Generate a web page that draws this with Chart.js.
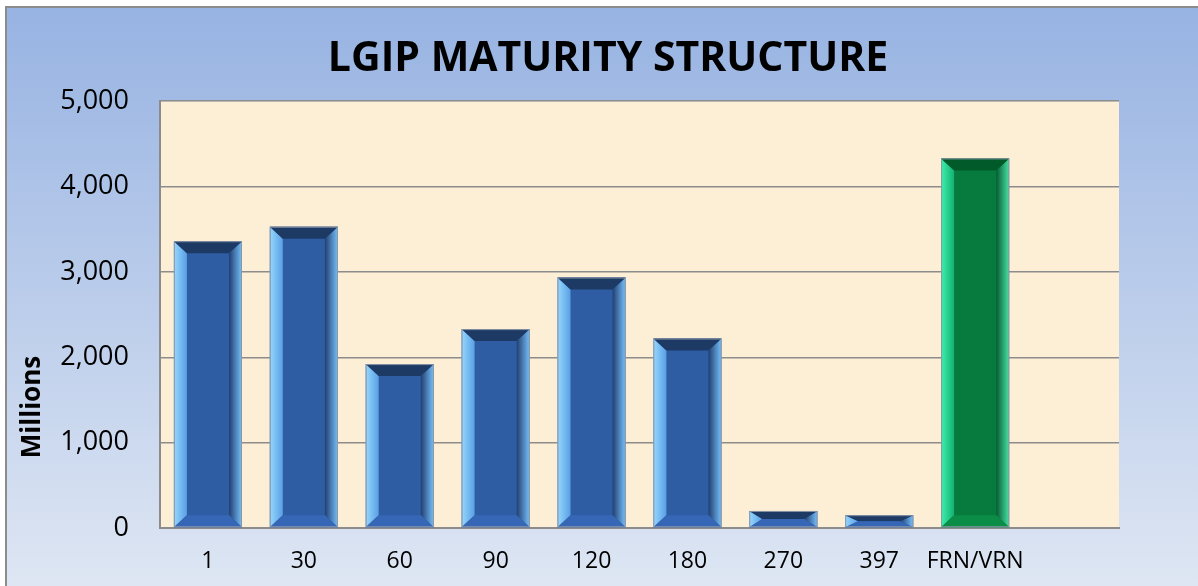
<!DOCTYPE html>
<html>
<head>
<meta charset="utf-8">
<script src="https://cdn.jsdelivr.net/npm/chart.js@4"></script>
<style>
  html, body { margin: 0; padding: 0; background: #ffffff; }
  #wrap { width: 1198px; height: 586px; }
</style>
</head>
<body>
<div id="wrap"><canvas id="chart" width="1198" height="586"></canvas></div>
<script>
// chart data
const categories = ['1', '30', '60', '90', '120', '180', '270', '397', 'FRN/VRN', ''];
const balances = [3360, 3530, 1920, 2330, 2935, 2220, 200, 150, 4330, null];
const yTicks = [0, 1000, 2000, 3000, 4000, 5000];
const chartTitle = 'LGIP MATURITY STRUCTURE';
const yTitle = 'Millions';

// bevel palettes: blue for the day buckets, green for floaters
const blue = { face: '#2e5da3', top: '#1d3a64', bottom: '#3667b6', leftOut: '#95d8ff', leftIn: '#5a9fe4', rightOut: '#78c0fb', rightIn: '#203f72' };
const green = { face: '#077b3e', top: '#005a29', bottom: '#0b8c47', leftOut: '#3ff0ad', leftIn: '#12b172', rightOut: '#49e2a5', rightIn: '#055c33' };
const paletteFor = i => categories[i] === 'FRN/VRN' ? green : blue;

// background gradient + cream plot area
const backdrop = {
    id: 'backdrop',
    beforeDraw(chart) {
        const { ctx, chartArea: a } = chart;
        ctx.save();
        const g = ctx.createLinearGradient(0, 7, 0, 586);
        g.addColorStop(0, '#97b3e2');
        g.addColorStop(1, '#dee6f3');
        ctx.fillStyle = g;
        ctx.fillRect(6, 7, 1198, 586);
        ctx.strokeStyle = '#8c8c8c';
        ctx.lineWidth = 2;
        ctx.beginPath();
        ctx.moveTo(6, 600); ctx.lineTo(6, 7); ctx.lineTo(1200, 7);
        ctx.stroke();
        ctx.fillStyle = '#fcefd5';
        ctx.fillRect(a.left, a.top, a.right - a.left, a.bottom - a.top);
        ctx.restore();
    },
    afterDraw(chart) {
        // axis title sits low on the axis in the original, so draw it by hand
        const { ctx } = chart;
        ctx.save();
        ctx.translate(33, 407);
        ctx.rotate(-Math.PI / 2);
        ctx.font = 'bold 26px "Open Sans"';
        ctx.fillStyle = '#000000';
        ctx.textAlign = 'center';
        ctx.textBaseline = 'middle';
        ctx.fillText(yTitle, 0, 0);
        ctx.restore();
    }
};

function trap(ctx, pts, fill) {
    ctx.beginPath();
    ctx.moveTo(pts[0][0], pts[0][1]);
    for (let k = 1; k < pts.length; k++) ctx.lineTo(pts[k][0], pts[k][1]);
    ctx.closePath();
    ctx.fillStyle = fill;
    ctx.fill();
}

// draws the beveled look on top of each bar element
const bevel = {
    id: 'bevel',
    afterDatasetsDraw(chart) {
        const { ctx } = chart;
        const meta = chart.getDatasetMeta(0);
        ctx.save();
        meta.data.forEach((bar, i) => {
            if (balances[i] == null) return;
            const { x, y, base, width } = bar.getProps(['x', 'y', 'base', 'width'], true);
            const p = paletteFor(i);
            const l = x - width / 2, r = x + width / 2, t = y, b = base;
            const h = b - t;
            const bs = Math.min(13, width / 2);
            const bv = Math.min(12, h / 2);
            // left strip
            let g = ctx.createLinearGradient(l, 0, l + bs, 0);
            g.addColorStop(0, p.leftOut); g.addColorStop(1, p.leftIn);
            trap(ctx, [[l, t], [l + bs, t + bv], [l + bs, b - bv], [l, b]], g);
            // right strip
            g = ctx.createLinearGradient(r - bs, 0, r, 0);
            g.addColorStop(0, p.rightIn); g.addColorStop(1, p.rightOut);
            trap(ctx, [[r, t], [r - bs, t + bv], [r - bs, b - bv], [r, b]], g);
            // top and bottom
            trap(ctx, [[l, t], [r, t], [r - bs, t + bv], [l + bs, t + bv]], p.top);
            trap(ctx, [[l, b], [r, b], [r - bs, b - bv], [l + bs, b - bv]], p.bottom);
            ctx.strokeStyle = '#8b96a8';
            ctx.lineWidth = 1;
            ctx.strokeRect(l + 0.5, t + 0.5, width - 1, h - 1);
        });
        ctx.restore();
    }
};

new Chart(document.getElementById('chart'), {
    type: 'bar',
    data: {
        labels: categories,
        datasets: [{
            data: balances,
            backgroundColor: balances.map((v, i) => paletteFor(i).face),
            borderWidth: 0,
            barPercentage: 0.71,
            categoryPercentage: 1
        }]
    },
    options: {
        responsive: false,
        animation: false,
        events: [],
        layout: { padding: { left: 18, right: 0, top: 0, bottom: 0 } },
        plugins: {
            legend: { display: false },
            tooltip: { enabled: false },
            title: {
                display: true,
                text: chartTitle,
                color: '#000000',
                font: { family: 'Open Sans', size: 41, weight: 'bold', lineHeight: 1.2 },
                padding: { top: 35, bottom: 17 }
            }
        },
        scales: {
            x: {
                grid: { display: false, drawTicks: false },
                border: { display: true, color: '#8c8c8c', width: 2 },
                ticks: { color: '#000000', padding: 20, maxRotation: 0, autoSkip: false, font: { family: 'Open Sans', size: 23 } },
                afterFit: s => { s.height = 58; }
            },
            y: {
                min: 0,
                max: 5000,
                afterBuildTicks: s => { s.ticks = yTicks.map(v => ({ value: v })); },
                grid: { color: '#8c8c8c', lineWidth: 1.5, drawTicks: false },
                border: { display: true, color: '#8c8c8c', width: 2 },
                ticks: {
                    color: '#000000',
                    padding: 31,
                    font: { family: 'Open Sans', size: 27 },
                    callback: v => v.toLocaleString('en-US')
                },
                afterFit: s => { s.width = 142; }
            },
            gap: {
                position: 'right',
                display: true,
                grid: { display: false, drawTicks: false },
                border: { display: false },
                ticks: { display: false },
                afterFit: s => { s.width = 79; }
            }
        }
    },
    plugins: [backdrop, bevel]
});
</script>
</body>
</html>
